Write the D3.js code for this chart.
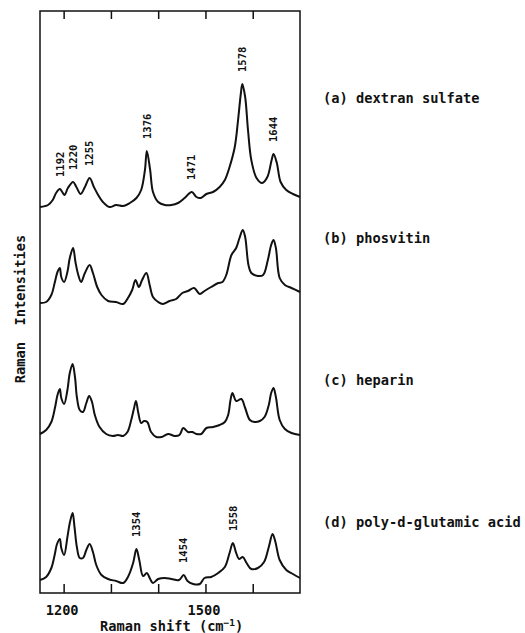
<!DOCTYPE html>
<html>
<head>
<meta charset="utf-8">
<script src="https://cdn.jsdelivr.net/npm/d3@7"></script>
<style>
  html, body { margin: 0; padding: 0; background: #fff; }
  svg { display: block; }
  text { font-family: "DejaVu Sans Mono", monospace; font-weight: bold; fill: #111; }
</style>
</head>
<body>
<svg id="chart" width="525" height="633"></svg>
<script>
// Raman spectra: [shift (cm^-1), intensity (arb. units)]
const dextranSulfate = [
  [1150,3],[1167,5],[1177,10],[1184,17],[1192,21],[1197,18],[1202,15],[1209,22],[1220,28],[1227,23],
  [1236,16],[1245,23],[1255,32],[1264,23],[1273,15],[1283,8],[1297,3],[1311,5],[1326,4],[1340,7],
  [1354,12],[1364,20],[1372,40],[1376,59],[1383,40],[1389,18],[1400,8],[1414,5],[1428,5],[1442,7],
  [1456,12],[1471,18],[1481,13],[1490,12],[1502,16],[1516,18],[1530,23],[1541,30],[1551,43],[1562,63],
  [1569,90],[1575,117],[1578,126],[1584,113],[1590,80],[1597,50],[1608,32],[1620,27],[1631,33],[1640,50],
  [1644,56],[1651,47],[1659,28],[1671,20],[1685,16],[1700,13]
];
const phosvitin = [
  [1150,2],[1163,3],[1174,10],[1181,22],[1187,33],[1192,37],[1195,28],[1201,23],[1208,33],[1213,47],
  [1220,57],[1225,43],[1231,30],[1237,23],[1245,32],[1255,40],[1262,32],[1271,18],[1280,10],[1294,4],
  [1311,3],[1326,1],[1336,7],[1345,15],[1352,25],[1359,18],[1366,25],[1375,32],[1382,20],[1389,8],
  [1400,3],[1410,1],[1424,4],[1438,6],[1451,12],[1463,14],[1476,17],[1488,11],[1498,14],[1512,18],
  [1527,22],[1536,23],[1544,30],[1555,50],[1565,57],[1572,67],[1579,75],[1584,68],[1591,40],[1597,32],
  [1611,29],[1622,30],[1632,45],[1639,60],[1644,65],[1649,57],[1657,27],[1668,20],[1682,17],[1700,13]
];
const heparin = [
  [1150,4],[1163,8],[1174,16],[1182,31],[1187,43],[1192,49],[1195,40],[1201,34],[1208,48],[1213,65],
  [1219,74],[1224,61],[1228,41],[1234,28],[1241,26],[1248,35],[1254,42],[1260,36],[1266,23],[1276,11],
  [1290,4],[1304,2],[1315,3],[1326,2],[1335,6],[1343,18],[1349,30],[1353,37],[1358,25],[1364,15],
  [1370,17],[1377,16],[1385,6],[1396,1],[1407,1],[1421,4],[1435,2],[1445,3],[1453,10],[1463,6],
  [1472,6],[1481,4],[1491,4],[1502,10],[1516,11],[1530,13],[1541,16],[1548,23],[1553,38],[1557,45],
  [1565,37],[1576,39],[1584,30],[1594,18],[1604,16],[1615,17],[1625,21],[1634,33],[1639,45],[1644,50],
  [1649,41],[1657,18],[1668,9],[1682,5],[1700,3]
];
const polyGlutamicAcid = [
  [1150,5],[1163,8],[1174,17],[1181,30],[1186,41],[1192,46],[1195,37],[1201,30],[1208,48],[1213,62],
  [1219,72],[1223,58],[1228,38],[1234,27],[1241,27],[1248,35],[1255,41],[1262,33],[1269,20],[1280,10],
  [1294,6],[1311,4],[1326,2],[1336,8],[1347,22],[1354,36],[1360,25],[1368,9],[1376,12],[1383,6],
  [1389,2],[1400,6],[1414,7],[1428,6],[1444,5],[1454,10],[1462,4],[1474,1],[1488,1],[1498,7],
  [1512,8],[1527,12],[1541,18],[1551,32],[1558,42],[1565,32],[1571,26],[1579,28],[1587,22],[1597,16],
  [1611,17],[1624,23],[1634,38],[1642,51],[1648,43],[1657,25],[1671,15],[1685,11],[1700,7]
];

const sampleNames = ["(a) dextran sulfate", "(b) phosvitin", "(c) heparin", "(d) poly-d-glutamic acid"];
const dextranPeaks = [1192, 1220, 1255, 1376, 1471, 1578, 1644];
const glutamicPeaks = [1354, 1454, 1558];
const shiftTicks = [1200, 1300, 1400, 1500, 1600];
const shiftTickLabels = [1200, 1500];

// layout
const frame = { left: 40, right: 300, top: 11, bottom: 593 };
const svg = d3.select("#chart");

const x = d3.scaleLinear().domain([1150, 1700]).range([frame.left, frame.right]);

// each spectrum sits on its own baseline, stacked top to bottom
const panels = [
  { data: dextranSulfate,   name: sampleNames[0], base: 210, nameY: 103, peaks: dextranPeaks },
  { data: phosvitin,        name: sampleNames[1], base: 305, nameY: 243, peaks: [] },
  { data: heparin,          name: sampleNames[2], base: 438, nameY: 385, peaks: [] },
  { data: polyGlutamicAcid, name: sampleNames[3], base: 585, nameY: 527, peaks: glutamicPeaks }
];

// frame
svg.append("rect")
  .attr("x", frame.left).attr("y", frame.top)
  .attr("width", frame.right - frame.left).attr("height", frame.bottom - frame.top)
  .attr("fill", "none").attr("stroke", "#111").attr("stroke-width", 1.5);

// inward ticks on top and bottom edges
const topAxis = svg.append("g")
  .attr("transform", `translate(0,${frame.top})`)
  .call(d3.axisBottom(x).tickValues(shiftTicks).tickSize(8).tickFormat(""));
const bottomAxis = svg.append("g")
  .attr("transform", `translate(0,${frame.bottom})`)
  .call(d3.axisTop(x).tickValues(shiftTicks).tickSize(9).tickFormat(""));
[topAxis, bottomAxis].forEach(g => {
  g.select(".domain").remove();
  g.selectAll(".tick line").attr("stroke", "#111").attr("stroke-width", 1.5);
});

// tick labels
const labelAxis = svg.append("g")
  .attr("transform", `translate(-2,${frame.bottom})`)
  .call(d3.axisBottom(x).tickValues(shiftTickLabels).tickSize(0).tickPadding(12).tickFormat(d3.format("d")));
labelAxis.select(".domain").remove();
labelAxis.selectAll("text")
  .attr("font-family", null).attr("font-size", null)
  .style("font-size", "13.7px").style("fill", "#111");

// x-axis title
const xTitle = svg.append("text")
  .attr("x", 100).attr("y", 631)
  .style("font-size", "13.7px");
xTitle.append("tspan").text("Raman shift (cm");
xTitle.append("tspan").attr("dy", -5).style("font-size", "9.5px").text("\u22121");
xTitle.append("tspan").attr("dy", 5).text(")");

// y-axis title
svg.append("text")
  .attr("transform", "translate(25,309) rotate(-90)")
  .attr("text-anchor", "middle")
  .style("font-size", "13.7px")
  .style("white-space", "pre")
  .text("Raman  Intensities");

const line = d3.line().curve(d3.curveCatmullRom.alpha(0.5));

panels.forEach(p => {
  const y = d3.scaleLinear().domain([0, 130]).range([p.base, p.base - 130]);
  line.x(d => x(d[0])).y(d => y(d[1]));

  svg.append("path")
    .datum(p.data)
    .attr("d", line)
    .attr("fill", "none")
    .attr("stroke", "#111")
    .attr("stroke-width", 2)
    .attr("stroke-linejoin", "round");

  // peak position labels, written upward above each band
  const lookup = new Map(p.data.map(d => [d[0], d[1]]));
  svg.append("g").selectAll("text")
    .data(p.peaks)
    .join("text")
      .attr("transform", d => `translate(${x(d)},${y(lookup.get(d)) - 12}) rotate(-90)`)
      .attr("dy", "0.35em")
      .style("font-size", "10.5px")
      .text(d => d);

  // sample name to the right of the frame
  svg.append("text")
    .attr("x", 323).attr("y", p.nameY)
    .style("font-size", "13.7px")
    .style("white-space", "pre")
    .text(p.name);
});
</script>
</body>
</html>
